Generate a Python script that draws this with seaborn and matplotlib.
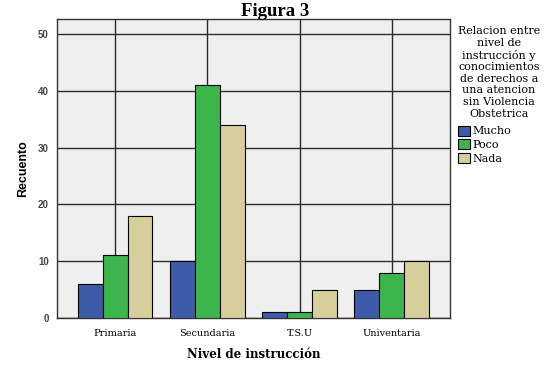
import seaborn as sns
import pandas as pd
import matplotlib.pyplot as plt

niveles = ['Primaria', 'Secundaria', 'T.S.U', 'Univentaria']
respuestas = ['Mucho', 'Poco', 'Nada']
mucho = [6, 10, 1, 5]
poco = [11, 41, 1, 8]
nada = [18, 34, 5, 10]
colores = ['#3e5ba9', '#3cb64c', '#d6cf9b']

rows = []
for i, n in enumerate(niveles):
    rows.append((n, 'Mucho', mucho[i]))
    rows.append((n, 'Poco', poco[i]))
    rows.append((n, 'Nada', nada[i]))
df = pd.DataFrame(rows, columns=['Nivel', 'Respuesta', 'Recuento'])

sns.set_style('white')
plt.rcParams['text.color'] = 'black'
plt.rcParams['axes.labelcolor'] = 'black'
plt.rcParams['xtick.color'] = 'black'
plt.rcParams['ytick.color'] = 'black'
serif = ['Liberation Serif', 'DejaVu Serif']
wide = ['DejaVu Serif']
sans = ['Liberation Sans', 'DejaVu Sans']

fig = plt.figure(figsize=(5.5, 3.7), dpi=100)
ax = fig.add_axes([0.1036, 0.1405, 0.7145, 0.808])
ax.set_facecolor('#efefef')

sns.barplot(data=df, x='Nivel', y='Recuento', hue='Respuesta', hue_order=respuestas,
            palette=colores, width=0.81, gap=0, edgecolor='black', linewidth=0.8,
            saturation=1, ax=ax, zorder=3)

ax.set_xlim(-0.63, 3.63)
ax.set_ylim(0, 52.6)
ax.set_yticks([0, 10, 20, 30, 40, 50])
ax.grid(True, color='#2b2b2b', linewidth=1.0, zorder=0)
ax.set_axisbelow(True)
for s in ax.spines.values():
    s.set_color('#333333')
    s.set_linewidth(1.0)
ax.tick_params(axis='both', direction='out', length=4, width=1, color='#333333', pad=2)
ax.tick_params(axis='x', pad=4)
for t in ax.get_yticklabels():
    t.set_family(sans)
    t.set_fontsize(7)
    t.set_fontweight('bold')
    t.set_color('#444444')
for t in ax.get_xticklabels():
    t.set_family(wide)
    t.set_fontsize(7)

ax.set_xlabel('Nivel de instrucción', family=wide, fontsize=8.5, fontweight='bold', labelpad=7)
ax.set_ylabel('Recuento', family=sans, fontsize=9, fontweight='bold', labelpad=6)
fig.text(0.5, 1 - 16 / 370, 'Figura 3', ha='center', va='baseline', family=serif, fontsize=13.5, fontweight='bold')

handles, labels = ax.get_legend_handles_labels()
ax.get_legend().remove()
leg = fig.legend(handles, labels, loc='upper left', bbox_to_anchor=(0.818, 0.95), frameon=False,
                 title='Relacion entre\nnivel de\ninstrucción y\nconocimientos\nde derechos a\nuna atencion\nsin Violencia\nObstetrica',
                 prop={'family': wide, 'size': 8}, handlelength=1.1, handleheight=1.0,
                 handletextpad=0.2, labelspacing=0.25, borderpad=0.2)
leg.get_title().set_family(wide)
leg.get_title().set_fontsize(8)
leg.get_title().set_linespacing(1.2)
leg.get_title().set_multialignment('center')
leg._legend_box.align = 'left'
leg._legend_box.sep = 5

fig.savefig('out.png', dpi=100, facecolor='white')
